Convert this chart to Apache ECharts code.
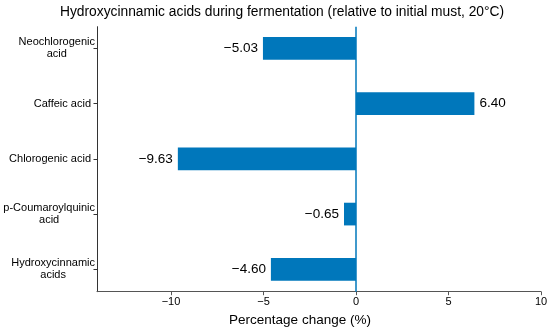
<!DOCTYPE html>
<html>
<head>
<meta charset="utf-8">
<script src="https://cdn.jsdelivr.net/npm/echarts@6/dist/echarts.min.js"></script>
<style>html,body{margin:0;padding:0;background:#fff}#c{width:550px;height:331px}</style>
</head>
<body>
<div id="c"></div>
<script>
var titleText = 'Hydroxycinnamic acids during fermentation (relative to initial must, 20\u00B0C)';
var categories = ['Neochlorogenic\nacid', 'Caffeic acid', 'Chlorogenic acid', 'p-Coumaroylquinic\nacid', 'Hydroxycinnamic\nacids'];
var values = [-5.03, 6.40, -9.63, -0.65, -4.60];
var xTicks = [-10, -5, 0, 5, 10];
var xMin = -14, xMax = 10;
var zeroLine = [0];
var xName = 'Percentage change (%)';

var FONT = '"Liberation Sans", Arial, Helvetica, sans-serif';
var BLUE = '#0077BB';
function fmt(v, d) {
  var s = Math.abs(v).toFixed(d);
  return (v < 0 ? '\u2212' : '') + s;
}

var chart = echarts.init(document.getElementById('c'), null, {renderer: 'canvas'});
var barData = values.map(function (v) {
  return {value: v, label: {position: v < 0 ? 'left' : 'right', distance: 5}};
});
var option = {
  animation: false,
  backgroundColor: '#fff',
  title: {
    text: titleText, left: 282, top: 5, padding: 0, textAlign: 'center',
    textStyle: {fontFamily: FONT, fontSize: 13.8, fontWeight: 'normal', color: '#000'}
  },
  grid: [
    {left: 97, right: 9, top: 20.7, bottom: 34.05, containLabel: false, outerBoundsMode: 'none'},
    {left: 97, right: 9, top: 26.7, bottom: 39.3, containLabel: false, outerBoundsMode: 'none'}
  ],
  xAxis: [
    {gridIndex: 0, type: 'value', min: xMin, max: xMax, show: false},
    {gridIndex: 1, type: 'value', min: xMin, max: xMax,
     axisLine: {show: true, onZero: false, lineStyle: {color: '#555', width: 1}},
     axisTick: {show: true, length: 3.5, customValues: xTicks, lineStyle: {color: '#555'}},
     axisLabel: {show: true, customValues: xTicks, margin: 5, color: '#000', fontFamily: FONT, fontSize: 11,
       formatter: function (v) { return fmt(v, 0); }},
     splitLine: {show: false},
     name: xName, nameLocation: 'middle', nameGap: 22,
     nameTextStyle: {fontFamily: FONT, fontSize: 13.5, color: '#000', padding: [0, 38, 0, 0]}
    }
  ],
  yAxis: [
    {gridIndex: 0, type: 'category', data: categories, inverse: true,
     axisLine: {show: false, onZero: false},
     axisTick: {show: true, alignWithLabel: true, length: 3.5, lineStyle: {color: '#333'}},
     axisLabel: {margin: 2, color: '#000', fontFamily: FONT, fontSize: 11, lineHeight: 12,
       formatter: function (v) {
         var lines = v.split('\n');
         if (lines.length === 1) { return '{s|' + v + '}'; }
         return lines.map(function (l) { return '{c|' + l + '}'; }).join('\n');
       },
       rich: {
         c: {align: 'center', fontFamily: FONT, fontSize: 11, lineHeight: 12, color: '#000'},
         s: {fontFamily: FONT, fontSize: 11, lineHeight: 12, color: '#000', padding: [0, 4, 0, 0]}
       }},
     splitLine: {show: false}
    },
    {gridIndex: 1, type: 'value', min: 0, max: 1,
     axisLine: {show: true, onZero: false, lineStyle: {color: '#333', width: 1}},
     axisTick: {show: false}, axisLabel: {show: false}, splitLine: {show: false}
    }
  ],
  series: [
    {type: 'bar', xAxisIndex: 0, yAxisIndex: 0, data: barData, barWidth: 22.7,
     itemStyle: {color: BLUE},
     label: {show: true, color: '#000', fontFamily: FONT, fontSize: 13.5,
       formatter: function (p) { return fmt(p.value, 2); }}
    },
    {type: 'line', xAxisIndex: 1, yAxisIndex: 1, symbol: 'none', silent: true,
     data: [[zeroLine[0], 0], [zeroLine[0], 1]],
     lineStyle: {color: BLUE, width: 1.5}, z: 3
    }
  ]
};
chart.setOption(option);
</script>
</body>
</html>
